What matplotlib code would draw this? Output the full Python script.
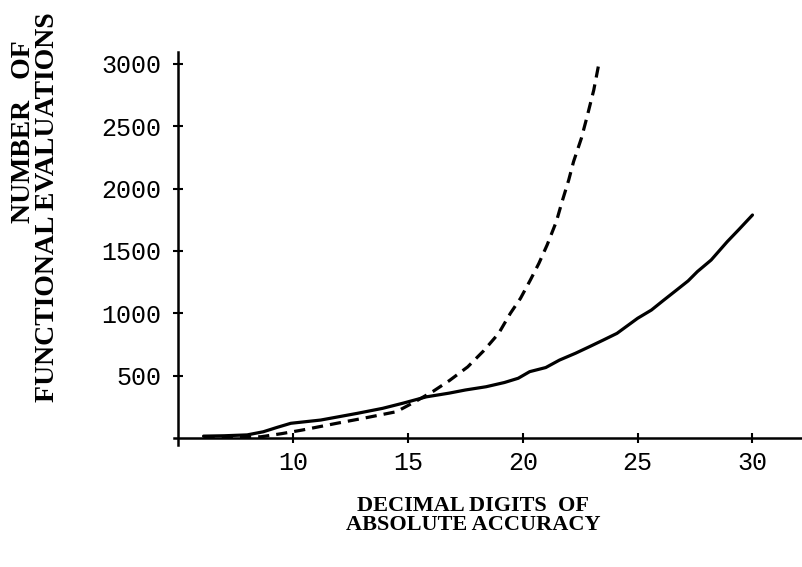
import matplotlib.pyplot as plt

# data
solid_x = [6.1, 7.0, 8.0, 8.7, 9.3, 9.9, 11.2, 12.8, 13.9, 14.8, 15.8, 16.8,
           17.5, 18.4, 19.2, 19.8, 20.3, 21.0, 21.6, 22.3, 22.9, 23.5, 24.1,
           25.0, 25.6, 26.1, 26.7, 27.2, 27.6, 28.2, 28.9, 29.4, 30.0]
solid_y = [15, 18, 25, 50, 85, 118, 144, 198, 238, 280, 330, 360,
           385, 411, 445, 479, 532, 565, 625, 680, 732, 785, 839,
           960, 1026, 1100, 1187, 1260, 1334, 1427, 1574, 1670, 1788]

dashed_x = [6.1, 7.5, 8.6, 9.5, 10.4, 11.9, 13.05, 14.5, 15.3, 16.1, 16.8,
            17.6, 18.3, 18.95, 19.46, 19.9, 20.33, 20.7, 21.06, 21.46, 21.71,
            22.0, 22.21, 22.55, 22.8, 23.09, 23.3]
dashed_y = [5, 8, 10, 35, 64, 118, 158, 211, 290, 375, 460,
            570, 700, 839, 1000, 1120, 1267, 1400, 1548, 1735, 1895,
            2069, 2216, 2403, 2577, 2790, 2990]

xticks = [10, 15, 20, 25, 30]
yticks = [500, 1000, 1500, 2000, 2500, 3000]

fig = plt.figure(figsize=(8.03, 5.67), dpi=100)
ax = fig.add_axes([0.2163, 0.2143, 0.7837, 0.694])

ax.plot(solid_x, solid_y, color='black', lw=2.3, solid_capstyle='round')
ax.plot(dashed_x, dashed_y, color='black', lw=2.3, linestyle=(0, (3.5, 2.2)))

ax.set_xlim(4.8, 32.2)
ax.set_ylim(-60, 3095)

# Mathematica-style crossing axes
for s in ['top', 'right']:
    ax.spines[s].set_visible(False)
ax.spines['left'].set_position(('data', 5))
ax.spines['bottom'].set_position(('data', 0))
ax.spines['left'].set_linewidth(1.8)
ax.spines['bottom'].set_linewidth(1.8)

ax.set_xticks(xticks)
ax.set_yticks(yticks)
ax.tick_params(direction='inout', length=7, width=1.5, pad=6)
ax.tick_params(axis='y', pad=9)
for lab in ax.get_xticklabels() + ax.get_yticklabels():
    lab.set_fontfamily('Liberation Mono')
    lab.set_fontsize(18)

ylab = dict(rotation=90, ha='center', va='center',
            family='Liberation Serif', weight='bold', fontsize=20)
fig.text(0.029, 1 - 132 / 567, 'NUMBER   OF', **ylab)
fig.text(0.059, 1 - 207 / 567, 'FUNCTIONAL EVALUATIONS', **ylab)

fig.text(0.589, 0.091, 'DECIMAL DIGITS  OF\nABSOLUTE ACCURACY',
         ha='center', va='center', multialignment='center',
         family='Liberation Serif', weight='bold', fontsize=16, linespacing=0.95)

fig.savefig('out.png', dpi=100)
